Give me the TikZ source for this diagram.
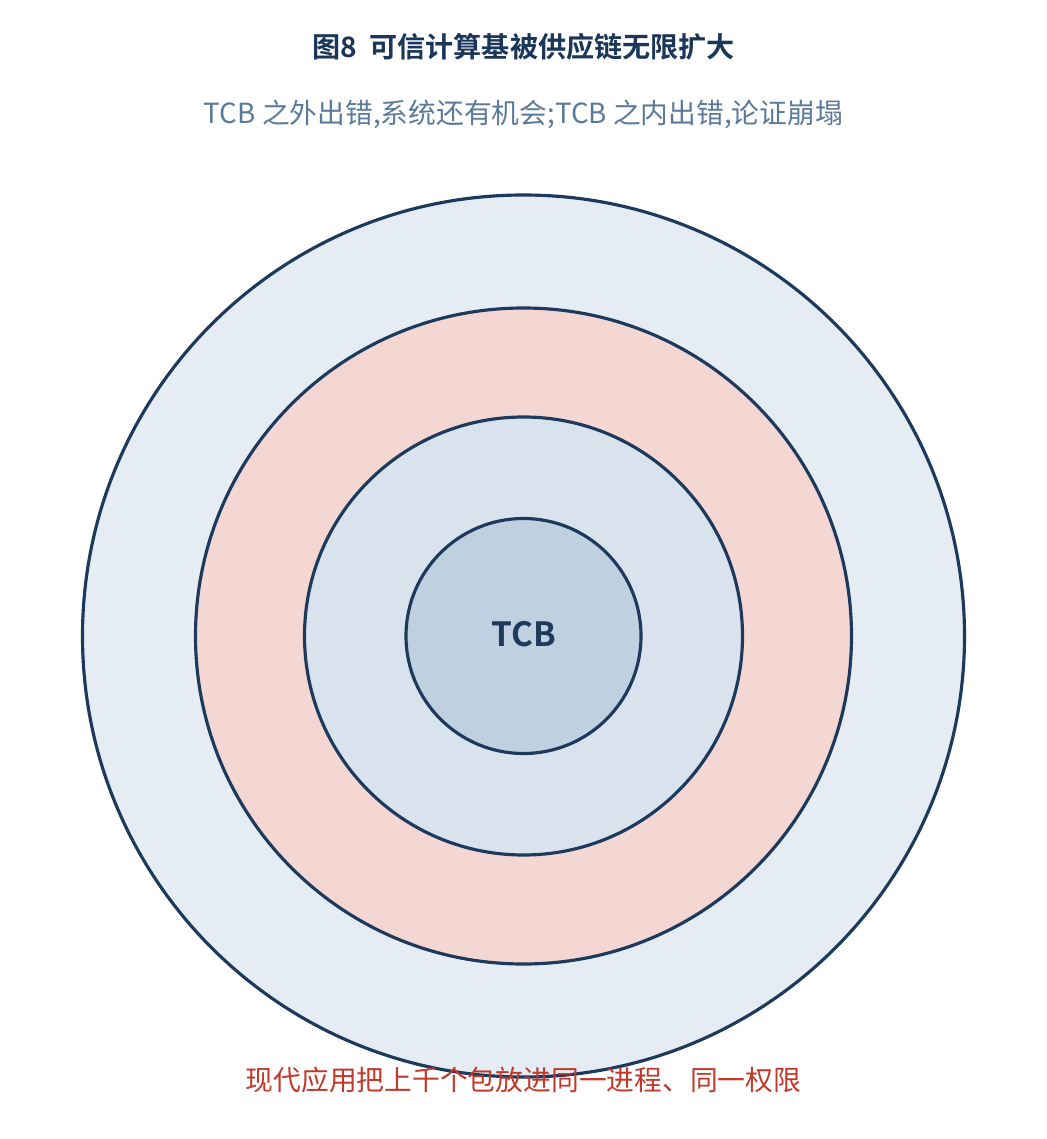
\documentclass[tikz,border=0pt]{standalone}
\usepackage{fontspec}
\setmainfont{Noto Sans CJK SC}
\newfontfamily\cjkbold{Noto Sans CJK SC Bold}
\usepackage{xcolor}
\definecolor{navy}{HTML}{1D3A5C}
\definecolor{titlecol}{HTML}{1A3658}
\definecolor{subcol}{HTML}{5B7A99}
\definecolor{warn}{HTML}{C0392B}
\definecolor{ringA}{HTML}{E6ECF3}
\definecolor{ringB}{HTML}{F4D6D3}
\definecolor{ringC}{HTML}{D8E3EE}
\definecolor{ringD}{HTML}{BFD0E0}

\begin{document}
\begin{tikzpicture}[scale=1]
		\useasboundingbox (0,0) rectangle (20.94,-22.78);
		\tikzset{ring/.style={draw=navy, line width=1.8pt}}
		
		%draw circles, outside first
		\filldraw[ring, fill=ringA] (10.47,-12.72) circle (8.82);
		\filldraw[ring, fill=ringB] (10.47,-12.72) circle (6.56);
		\filldraw[ring, fill=ringC] (10.47,-12.72) circle (4.38);
		\filldraw[ring, fill=ringD] (10.47,-12.72) circle (2.35);
		
		%title & texts
		\node (title) at (10.47,-0.94) {\cjkbold\fontsize{16}{19}\selectfont\color{titlecol} 图8\ \ 可信计算基被供应链无限扩大};
		\node (sub) at (10.47,-2.28) {\fontsize{15.8}{18}\selectfont\color{subcol} TCB 之外出错,系统还有机会;TCB 之内出错,论证崩塌};
		\node (tcb) at (10.47,-12.68) {\cjkbold\fontsize{19}{22}\selectfont\color{navy} TCB};
		\node (note) at (10.47,-21.6) {\fontsize{15.8}{18}\selectfont\color{warn} 现代应用把上千个包放进同一进程、同一权限};
\end{tikzpicture}
\end{document}
